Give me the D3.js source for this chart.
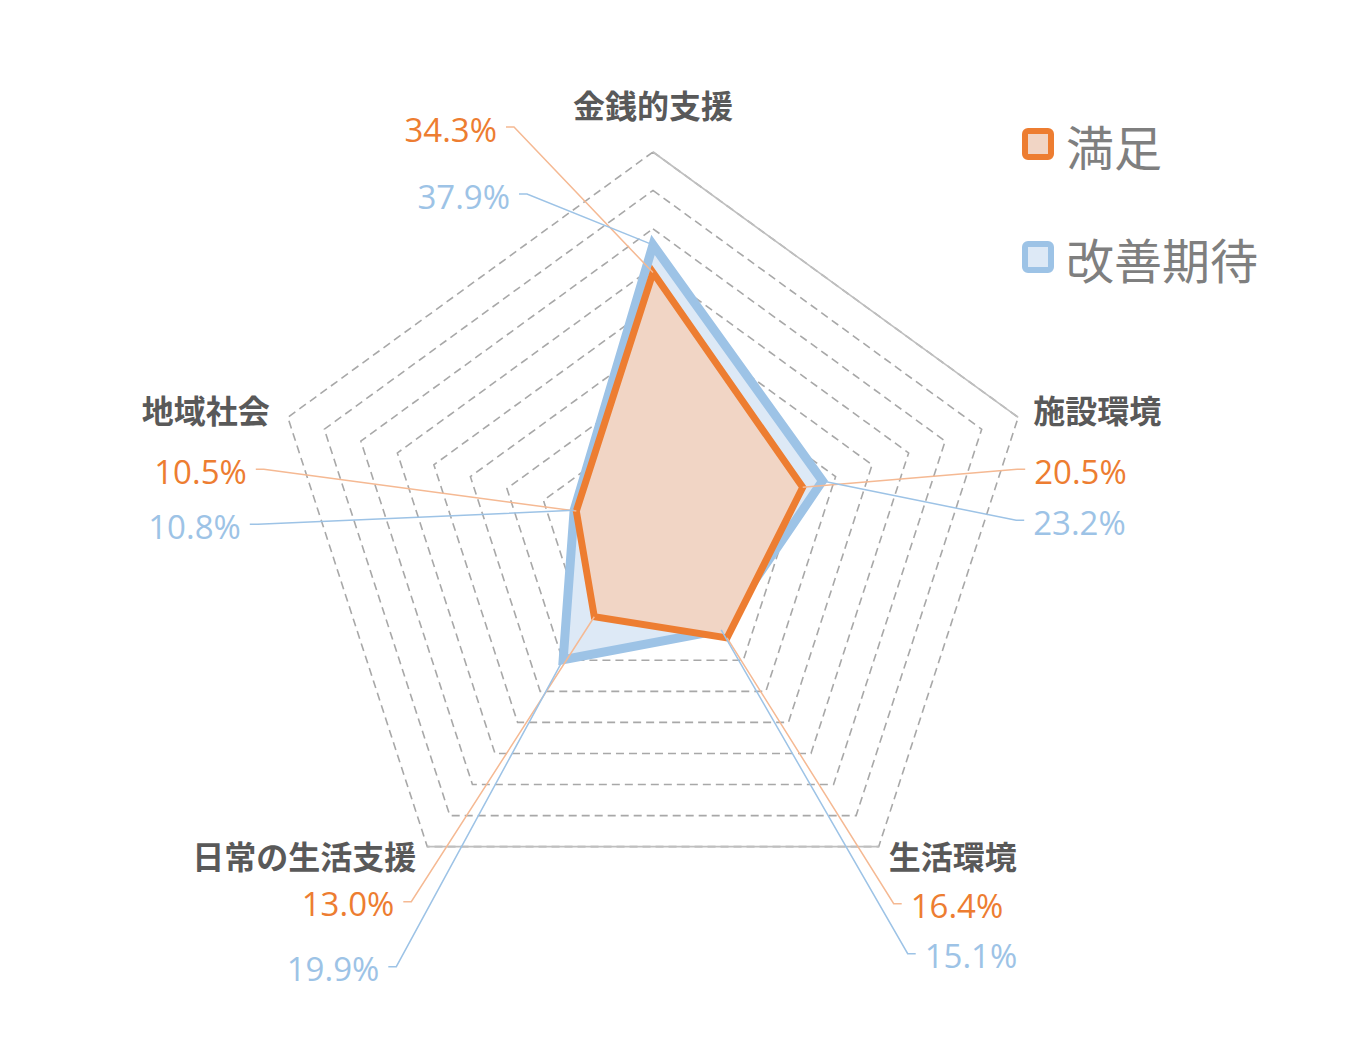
<!DOCTYPE html>
<html>
<head>
<meta charset="utf-8">
<script src="https://cdn.jsdelivr.net/npm/d3@7"></script>
<style>
  body { margin: 0; background: #fff; }
  svg { display: block; }
</style>
</head>
<body>
<div id="chart"></div>
<script>
// categories, clockwise from the top
const categories = ["金銭的支援", "施設環境", "生活環境", "日常の生活支援", "地域社会"];
const satisfied = [34.3, 20.5, 16.4, 13.0, 10.5];      // 満足
const improvement = [37.9, 23.2, 15.1, 19.9, 10.8];    // 改善期待
const seriesNames = ["満足", "改善期待"];
const gridTicks = [5, 10, 15, 20, 25, 30, 35, 40, 45, 50];

const orange = "#ED7D31";
const orangeFill = "#F1D5C5";
const orangeLeader = "#F5B993";
const blue = "#9DC3E6";
const blueFill = "#DDE9F6";
const gridColor = "#A8A8A8";
const catColor = "#595959";

const width = 1360, height = 1060;
const cx = 653, cy = 536, R = 384;

// label offsets from each axis end (layout only)
const catOffset = [
  {dx: 0, dy: -48, anchor: "middle"},
  {dx: 15, dy: -8, anchor: "start"},
  {dx: 10, dy: 8, anchor: "start"},
  {dx: -11, dy: 8, anchor: "end"},
  {dx: -18, dy: -8, anchor: "end"}
];
const valOffset = [
  [{dx: -156, dy: -23, anchor: "end"}, {dx: -143, dy: 44, anchor: "end"}],
  [{dx: 16, dy: 54, anchor: "start"}, {dx: 15, dy: 105, anchor: "start"}],
  [{dx: 32, dy: 59, anchor: "start"}, {dx: 46, dy: 109, anchor: "start"}],
  [{dx: -33, dy: 57, anchor: "end"}, {dx: -48, dy: 122, anchor: "end"}],
  [{dx: -41, dy: 54, anchor: "end"}, {dx: -47, dy: 109, anchor: "end"}]
];

const svg = d3.select("#chart").append("svg")
  .attr("width", width)
  .attr("height", height);

const r = d3.scaleLinear().domain([0, 50]).range([0, R]);
const angle = d3.scaleLinear().domain([0, categories.length]).range([-Math.PI / 2, 1.5 * Math.PI]);

function pt(i, v) {
  const a = angle(i);
  return [cx + Math.cos(a) * r(v), cy + Math.sin(a) * r(v)];
}

const ringLine = d3.line().curve(d3.curveLinearClosed);

// grid rings
svg.append("g").selectAll("path")
  .data(gridTicks)
  .enter().append("path")
    .attr("d", t => ringLine(categories.map((c, i) => pt(i, t))))
    .attr("fill", "none")
    .attr("stroke", gridColor)
    .attr("stroke-width", 1.6)
    .attr("stroke-dasharray", "8,5");

// a couple of outer edges are drawn solid in the original
const maxTick = d3.max(gridTicks);
[[0, 1], [2, 3]].forEach(([a, b]) => {
  svg.append("path")
    .attr("d", d3.line()([pt(a, maxTick), pt(b, maxTick)]))
    .attr("stroke", "#BFBFBF")
    .attr("stroke-width", 1.6)
    .attr("fill", "none");
});

// series polygons: improvement under, satisfied on top
const series = [
  {name: seriesNames[1], values: improvement, stroke: blue, fill: blueFill, sw: 9},
  {name: seriesNames[0], values: satisfied, stroke: orange, fill: orangeFill, sw: 7}
];
series.forEach(s => {
  svg.append("path")
    .attr("d", ringLine(s.values.map((v, i) => pt(i, v))))
    .attr("fill", s.fill)
    .attr("stroke", s.stroke)
    .attr("stroke-width", s.sw)
    .attr("stroke-linejoin", "miter");
});

// category labels
svg.append("g").selectAll("text")
  .data(categories)
  .enter().append("text")
    .attr("x", (d, i) => pt(i, maxTick)[0] + catOffset[i].dx)
    .attr("y", (d, i) => pt(i, maxTick)[1] + catOffset[i].dy)
    .attr("text-anchor", (d, i) => catOffset[i].anchor)
    .attr("dominant-baseline", "central")
    .attr("font-family", "'Noto Sans CJK JP', sans-serif")
    .attr("font-weight", "bold")
    .attr("font-size", "32px")
    .attr("fill", catColor)
    .text(d => d);

// data labels with leader lines
const labelSets = [
  {values: satisfied, color: orange, leader: orangeLeader, k: 0},
  {values: improvement, color: blue, leader: blue, k: 1}
];
labelSets.forEach(set => {
  set.values.forEach((v, i) => {
    const o = valOffset[i][set.k];
    const end = pt(i, maxTick);
    const lx = end[0] + o.dx, ly = end[1] + o.dy;
    const dir = o.anchor === "end" ? 1 : -1;
    const p = pt(i, v);
    svg.append("path")
      .attr("d", d3.line()([[lx + dir * 9, ly - 2], [lx + dir * 17, ly - 2], p]))
      .attr("fill", "none")
      .attr("stroke", set.leader)
      .attr("stroke-width", 1.5);
    svg.append("text")
      .attr("x", lx)
      .attr("y", ly)
      .attr("text-anchor", o.anchor)
      .attr("dominant-baseline", "central")
      .attr("font-family", "'Open Sans', 'Noto Sans', sans-serif")
      .attr("font-size", "33px")
      .attr("fill", set.color)
      .text(d3.format(".1f")(v) + "%");
  });
});

// legend
const legend = svg.append("g").attr("transform", "translate(1022,128)");
const legendItems = [
  {name: seriesNames[0], stroke: orange, fill: orangeFill},
  {name: seriesNames[1], stroke: blue, fill: blueFill}
];
legendItems.forEach((d, i) => {
  const g = legend.append("g").attr("transform", `translate(0,${i * 113})`);
  g.append("rect")
    .attr("x", 3).attr("y", 3)
    .attr("width", 26).attr("height", 26)
    .attr("rx", 3)
    .attr("fill", d.fill)
    .attr("stroke", d.stroke)
    .attr("stroke-width", 6);
  g.append("text")
    .attr("x", 44)
    .attr("y", 17)
    .attr("dominant-baseline", "central")
    .attr("font-family", "'Noto Sans CJK JP', sans-serif")
    .attr("font-size", "48px")
    .attr("fill", "#7F7F7F")
    .text(d.name);
});
</script>
</body>
</html>
